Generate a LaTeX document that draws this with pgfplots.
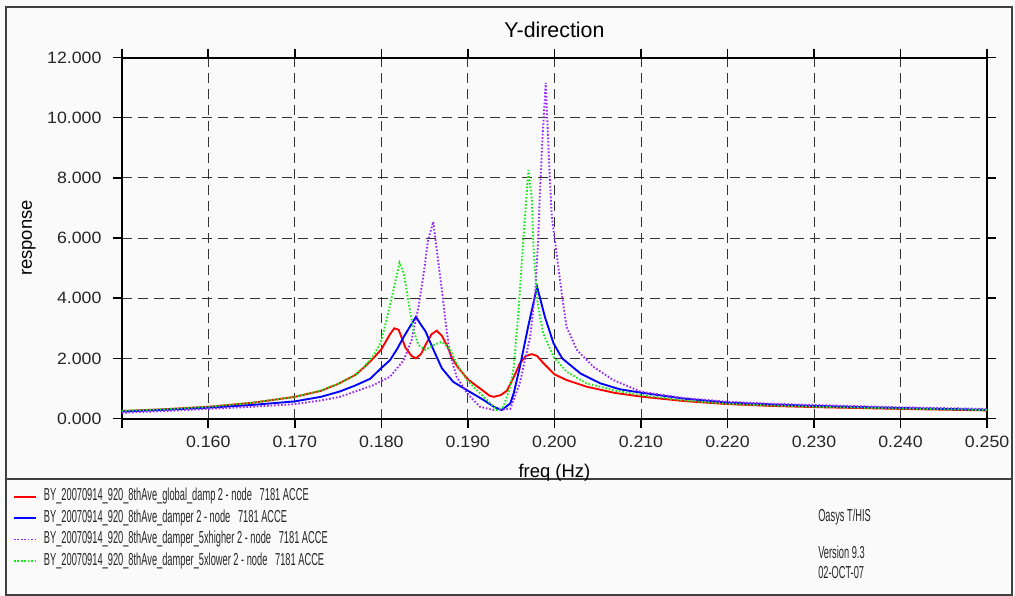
\documentclass[border=0pt]{standalone}
\usepackage{fontspec}
\setmainfont{Liberation Sans}
\newfontfamily\legfamily[FakeStretch=0.535]{Liberation Sans}
\newfontfamily\tickfamily[FakeStretch=1.08]{Liberation Sans}
\usepackage{pgfplots}
\pgfplotsset{compat=1.18}
\definecolor{bgc}{RGB}{250,250,250}
\definecolor{cred}{RGB}{255,0,0}
\definecolor{cblue}{RGB}{0,0,255}
\definecolor{cpurple}{RGB}{150,40,255}
\definecolor{cgreen}{RGB}{20,235,20}
\begin{document}
\begin{tikzpicture}
\useasboundingbox (0,0) rectangle (761.25pt,447pt);
\fill[bgc] (0,0) rectangle (761.25pt,447pt);
\draw[black!75,line width=0.8pt] (4.5pt,0.75pt) rectangle (759pt,441.75pt);
\draw[black!75,line width=0.8pt] (4.5pt,87.75pt) -- (759pt,87.75pt);
\begin{axis}[
  at={(91.3pt,133.1pt)}, anchor=south west,
  width=649pt, height=270.75pt, scale only axis,
  xmin=0.15, xmax=0.25, ymin=0, ymax=12,
  xtick={0.15,0.16,0.17,0.18,0.19,0.20,0.21,0.22,0.23,0.24,0.25},
  xticklabels={{},0.160,0.170,0.180,0.190,0.200,0.210,0.220,0.230,0.240,0.250},
  ytick={0,2,4,6,8,10,12},
  yticklabels={0.000,2.000,4.000,6.000,8.000,10.000,12.000},
  ticklabel style={font=\tickfamily\fontsize{12.3}{14}\selectfont, black!85},
  xticklabel style={yshift=-3pt},
  yticklabel style={xshift=-5pt},
  grid=major,
  major grid style={black!80, line width=0.6pt, dash pattern=on 7.5pt off 4.5pt},
  axis line style={line width=1.5pt},
  tick style={line width=1.2pt, black},
  major tick length=6.75pt, tick align=outside,
  title={Y-direction},
  title style={font=\fontsize{16}{18}\selectfont, at={(axis description cs:0.5,1.054)}, anchor=center},
  xlabel={freq (Hz)},
  xlabel style={font=\fontsize{13.8}{16}\selectfont, at={(axis description cs:0.5,-0.151)}, anchor=center},
  ylabel={response},
  ylabel style={font=\fontsize{13.8}{16}\selectfont, at={(axis description cs:-0.1074,0.5)}, anchor=center},
  legend style={at={(axis description cs:-0.1256,-0.1950)}, anchor=north west, draw=none, fill=none,
    inner sep=0pt, outer sep=0pt, font=\legfamily\fontsize{13}{14}\selectfont,
    nodes={inner sep=0pt, text height=9pt, text depth=2.5pt, text=black!85}, row sep=4.6pt,
    /tikz/every odd column/.append style={column sep=5.25pt}},
  legend cell align=left,
  legend image code/.code={\draw[#1] (0pt,0pt) -- (16.5pt,0pt);},
]
\addplot[cred, line width=1.4pt] coordinates {
(0.150,0.25)(0.155,0.31)(0.160,0.39)(0.165,0.52)(0.170,0.72)(0.173,0.92)(0.175,1.15)(0.177,1.45)(0.178,1.7)(0.179,1.98)(0.180,2.3)(0.181,2.8)(0.1815,3.0)(0.182,2.95)(0.1828,2.35)(0.1835,2.08)(0.184,2.0)(0.1846,2.15)(0.1852,2.5)(0.1858,2.8)(0.1864,2.92)(0.187,2.75)(0.1876,2.42)(0.1882,2.0)(0.1888,1.72)(0.190,1.3)(0.1914,1.0)(0.1925,0.76)(0.193,0.72)(0.1938,0.78)(0.1945,0.92)(0.1950,1.2)(0.1955,1.5)(0.196,1.83)(0.1967,2.08)(0.1974,2.14)(0.198,2.08)(0.1987,1.85)(0.200,1.47)(0.2014,1.28)(0.2037,1.06)(0.207,0.85)(0.210,0.73)(0.215,0.58)(0.220,0.48)(0.225,0.42)(0.230,0.38)(0.240,0.32)(0.250,0.27)};
\addlegendentry{BY\_20070914\_920\_8thAve\_global\_damp 2 - node\ \ \ 7181 ACCE}
\addplot[cblue, line width=1.4pt] coordinates {
(0.150,0.23)(0.155,0.29)(0.160,0.36)(0.165,0.45)(0.170,0.57)(0.173,0.72)(0.1752,0.9)(0.177,1.1)(0.1787,1.32)(0.180,1.68)(0.181,1.94)(0.1818,2.3)(0.1826,2.72)(0.1834,3.1)(0.184,3.38)(0.1845,3.15)(0.1851,2.9)(0.186,2.3)(0.187,1.67)(0.1883,1.22)(0.1902,0.89)(0.1918,0.62)(0.193,0.39)(0.1939,0.28)(0.1949,0.5)(0.1953,0.84)(0.196,1.7)(0.197,3.1)(0.1980,4.38)(0.1989,3.38)(0.1999,2.5)(0.2009,2.0)(0.203,1.5)(0.2053,1.17)(0.2076,0.97)(0.210,0.86)(0.215,0.66)(0.220,0.53)(0.225,0.47)(0.230,0.42)(0.240,0.35)(0.250,0.29)};
\addlegendentry{BY\_20070914\_920\_8thAve\_damper 2 - node\ \ \ 7181 ACCE}
\addplot[cpurple, line width=1.4pt, dash pattern=on 1.2pt off 1.4pt] coordinates {
(0.150,0.19)(0.155,0.25)(0.160,0.32)(0.165,0.39)(0.170,0.48)(0.173,0.6)(0.1752,0.72)(0.1775,0.95)(0.179,1.1)(0.181,1.39)(0.1826,1.94)(0.1835,2.61)(0.1843,3.72)(0.1849,4.83)(0.1854,5.93)(0.1860,6.54)(0.1866,5.16)(0.1870,4.27)(0.1874,3.27)(0.1879,2.17)(0.1887,1.39)(0.1899,0.84)(0.1914,0.39)(0.1930,0.28)(0.1949,0.32)(0.1960,1.17)(0.1972,2.72)(0.1978,4.27)(0.1981,5.8)(0.1983,7.3)(0.1986,9.2)(0.1990,11.16)(0.1994,8.4)(0.1997,6.7)(0.2003,5.38)(0.2009,4.05)(0.2014,3.05)(0.2026,2.28)(0.2045,1.72)(0.2068,1.28)(0.210,0.89)(0.215,0.68)(0.220,0.56)(0.225,0.49)(0.230,0.45)(0.240,0.37)(0.250,0.32)};
\addlegendentry{BY\_20070914\_920\_8thAve\_damper\_5xhigher 2 - node\ \ \ 7181 ACCE}
\addplot[cgreen, line width=1.4pt, dash pattern=on 1.2pt off 1.4pt] coordinates {
(0.150,0.26)(0.155,0.31)(0.160,0.39)(0.165,0.52)(0.170,0.72)(0.173,0.93)(0.175,1.15)(0.177,1.45)(0.178,1.72)(0.179,2.05)(0.1799,2.5)(0.1806,3.27)(0.1814,4.27)(0.1821,5.18)(0.1826,4.83)(0.1831,3.94)(0.1837,2.94)(0.1843,2.44)(0.1851,2.28)(0.1860,2.44)(0.1870,2.55)(0.1879,2.33)(0.1889,1.72)(0.1899,1.28)(0.1910,0.95)(0.1922,0.62)(0.1933,0.28)(0.1941,0.39)(0.1945,0.72)(0.1949,1.06)(0.1953,1.72)(0.1958,3.38)(0.1962,5.05)(0.1966,6.71)(0.1970,8.26)(0.1974,7.26)(0.1976,5.6)(0.1980,3.94)(0.1987,2.83)(0.1999,2.05)(0.2014,1.56)(0.2037,1.17)(0.2072,0.92)(0.210,0.78)(0.215,0.6)(0.220,0.49)(0.225,0.43)(0.230,0.39)(0.240,0.33)(0.250,0.28)};
\addlegendentry{BY\_20070914\_920\_8thAve\_damper\_5xlower 2 - node\ \ \ 7181 ACCE}
\end{axis}
\begin{scope}[every node/.style={anchor=west, inner sep=0pt, font=\legfamily\fontsize{13}{14}\selectfont, text=black!85}]
\node at (613.5pt,59.25pt) {Oasys T/HIS};
\node at (613.5pt,33pt) {Version 9.3};
\node at (613.5pt,17.25pt) {02-OCT-07};
\end{scope}
\end{tikzpicture}
\end{document}
